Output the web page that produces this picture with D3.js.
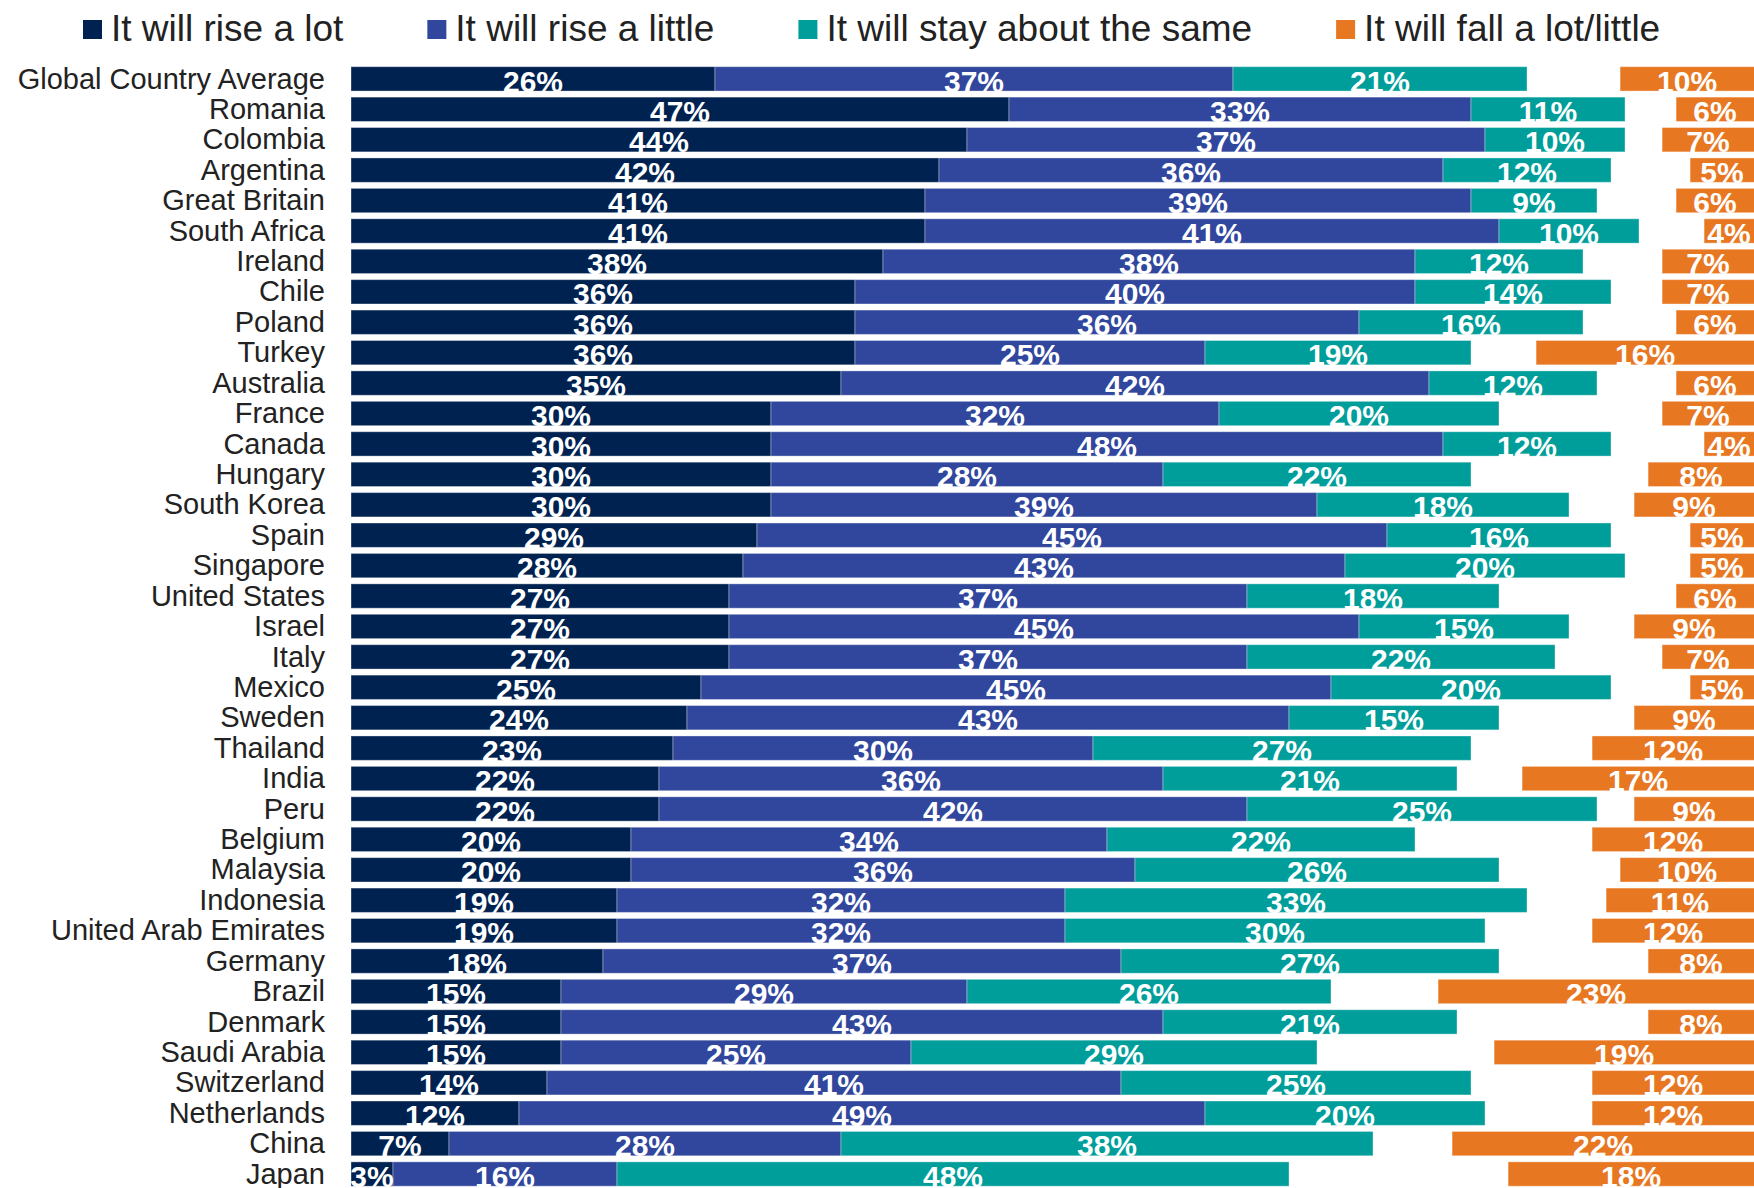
<!DOCTYPE html>
<html>
<head>
<meta charset="utf-8">
<script src="https://cdn.jsdelivr.net/npm/d3@7"></script>
<style>
  html, body { margin: 0; padding: 0; background: #ffffff; }
  svg { display: block; font-family: "Liberation Sans", Arial, sans-serif; }
</style>
</head>
<body>
<svg id="chart" width="1754" height="1188"></svg>
<script>
// ---------- DATA ----------
const categories = [
  "Global Country Average", "Romania", "Colombia", "Argentina", "Great Britain",
  "South Africa", "Ireland", "Chile", "Poland", "Turkey", "Australia", "France",
  "Canada", "Hungary", "South Korea", "Spain", "Singapore", "United States",
  "Israel", "Italy", "Mexico", "Sweden", "Thailand", "India", "Peru", "Belgium",
  "Malaysia", "Indonesia", "United Arab Emirates", "Germany", "Brazil", "Denmark",
  "Saudi Arabia", "Switzerland", "Netherlands", "China", "Japan"
];
const seriesNames = [
  "It will rise a lot", "It will rise a little",
  "It will stay about the same", "It will fall a lot/little"
];
const riseALot = [26,47,44,42,41,41,38,36,36,36,35,30,30,30,30,29,28,27,27,27,25,24,23,22,22,20,20,19,19,18,15,15,15,14,12,7,3];
const riseALittle = [37,33,37,36,39,41,38,40,36,25,42,32,48,28,39,45,43,37,45,37,45,43,30,36,42,34,36,32,32,37,29,43,25,41,49,28,16];
const staySame = [21,11,10,12,9,10,12,14,16,19,12,20,12,22,18,16,20,18,15,22,20,15,27,21,25,22,26,33,30,27,26,21,29,25,20,38,48];
const fall = [10,6,7,5,6,4,7,7,6,16,6,7,4,8,9,5,5,6,9,7,5,9,12,17,9,12,10,11,12,8,23,8,19,12,12,22,18];
const colors = ["#002251", "#31469D", "#009E9A", "#E87722"];

// ---------- LAYOUT ----------
const W = 1754, H = 1188;
const barLeft = 351;
const pxPerPct = 14.0;
const fallAnchor = 100.65; // right end of the "fall" segments, in % units
const svg = d3.select("#chart");

const x = d3.scaleLinear().domain([0, 100]).range([barLeft, barLeft + 100 * pxPerPct]);
const y = d3.scaleBand().domain(categories).range([66.7, 1186.2]).paddingInner(0.2).paddingOuter(0);
const color = d3.scaleOrdinal().domain(seriesNames).range(colors);

const rows = categories.map((c, i) => ({
  cat: c,
  vals: [riseALot[i], riseALittle[i], staySame[i], fall[i]]
}));

// segments
const segs = [];
rows.forEach(r => {
  let cum = 0;
  for (let k = 0; k < 3; k++) {
    segs.push({cat: r.cat, s: seriesNames[k], v: r.vals[k], x0: cum, x1: cum + r.vals[k]});
    cum += r.vals[k];
  }
  segs.push({cat: r.cat, s: seriesNames[3], v: r.vals[3], x0: fallAnchor - r.vals[3], x1: fallAnchor});
});

const gBars = svg.append("g");
gBars.selectAll("rect").data(segs).join("rect")
  .attr("x", d => x(d.x0))
  .attr("y", d => y(d.cat))
  .attr("width", d => x(d.x1) - x(d.x0))
  .attr("height", y.bandwidth())
  .attr("fill", d => color(d.s))
  .attr("stroke", "rgba(255,255,255,0.35)")
  .attr("stroke-width", 1);

gBars.selectAll("text").data(segs).join("text")
  .attr("x", d => (x(d.x0) + Math.min(x(d.x1), W)) / 2)
  .attr("y", d => y(d.cat) + y.bandwidth() + 0.5)
  .attr("text-anchor", "middle")
  .attr("fill", "#ffffff")
  .attr("font-weight", "bold")
  .attr("font-size", 30)
  .text(d => d.v + "%");

// category labels (axis)
const yAxis = d3.axisLeft(y).tickSize(0).tickPadding(0);
const gAxis = svg.append("g").attr("transform", "translate(325,0)").call(yAxis);
gAxis.select(".domain").remove();
gAxis.selectAll("text")
  .attr("font-size", 29)
  .attr("font-family", "'Liberation Sans', Arial, sans-serif")
  .attr("fill", "#222222")
  .attr("dy", null)
  .attr("y", y.bandwidth() / 2 - 2.5);

// legend
const gLeg = svg.append("g");
let lx = 83;
seriesNames.forEach((s, i) => {
  gLeg.append("rect").attr("x", lx).attr("y", 20).attr("width", 19).attr("height", 19).attr("fill", colors[i]);
  const t = gLeg.append("text").attr("x", lx + 28).attr("y", 40.5)
    .attr("font-size", 37).attr("fill", "#222222").text(s);
  lx = lx + 28 + t.node().getComputedTextLength() + 84;
});
</script>
</body>
</html>
